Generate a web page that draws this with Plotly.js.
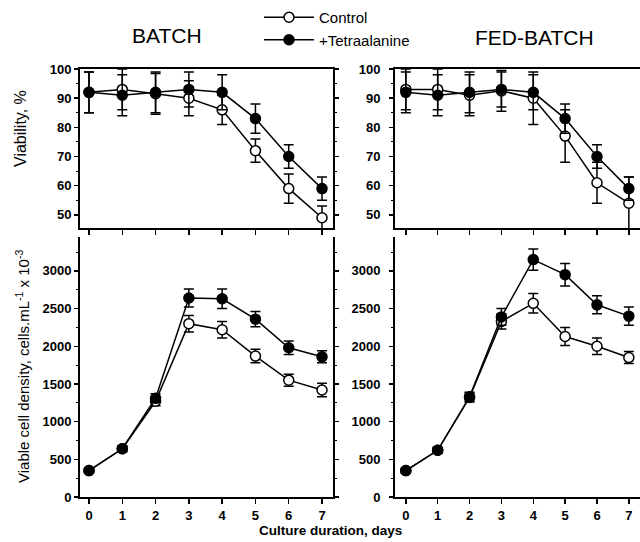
<!DOCTYPE html>
<html>
<head>
<meta charset="utf-8">
<script src="https://cdn.plot.ly/plotly-3.0.1.min.js"></script>
<style>html,body{margin:0;padding:0;background:#fff;}#chart{width:640px;height:542px;}</style>
</head>
<body>
<div id="chart"></div>
<script>
// ---- data ----
const days = [0, 1, 2, 3, 4, 5, 6, 7];
const dayTickLabels = ['0', '1', '2', '3', '4', '5', '6', '7'];

const batchViabControl    = [92, 93, 91.5, 90, 86, 72, 59, 49];
const batchViabControlErr = [7, 7, 7, 6, 5, 4, 5, 4];
const batchViabTetra      = [92, 91, 92, 93, 92, 83, 70, 59];
const batchViabTetraErr   = [7, 7, 7, 6, 6, 5, 4, 4];

const fedViabControl      = [93, 93, 91, 92.5, 90, 77, 61, 54];
const fedViabControlErr   = [7, 7, 7, 7, 9, 9, 7, 9];
const fedViabTetra        = [92, 91, 92, 93, 92, 83, 70, 59];
const fedViabTetraErr     = [7, 7, 7, 6, 6, 5, 4, 4];

const batchDensControl    = [350, 640, 1270, 2300, 2220, 1870, 1550, 1420];
const batchDensControlErr = [30, 40, 60, 110, 110, 90, 80, 90];
const batchDensTetra      = [350, 640, 1310, 2640, 2630, 2360, 1980, 1860];
const batchDensTetraErr   = [30, 40, 60, 120, 130, 100, 90, 80];

const fedDensControl      = [350, 620, 1320, 2330, 2570, 2130, 2000, 1850];
const fedDensControlErr   = [30, 40, 60, 100, 130, 120, 110, 80];
const fedDensTetra        = [350, 620, 1330, 2390, 3150, 2950, 2550, 2400];
const fedDensTetraErr     = [30, 40, 60, 110, 140, 150, 120, 120];

const seriesNames = ['Control', '+Tetraalanine'];
const panelTitles = ['BATCH', 'FED-BATCH'];

// ---- build ----
const FONT = 'Liberation Sans, Arial, sans-serif';
function mk(y, err, isControl, xa, ya, showLegend) {
  return {
    x: days, y: y, xaxis: xa, yaxis: ya,
    type: 'scatter', mode: 'lines+markers',
    name: isControl ? seriesNames[0] : seriesNames[1],
    showlegend: showLegend,
    line: {color: '#000', width: 1.5},
    marker: {size: 10, color: isControl ? '#fff' : '#000', line: {color: '#000', width: 1.5}},
    error_y: {type: 'data', array: err, visible: true, color: '#000', thickness: 1.5, width: 5}
  };
}
const traces = [
  mk(batchViabControl, batchViabControlErr, true, 'x', 'y', true),
  mk(batchViabTetra, batchViabTetraErr, false, 'x', 'y', true),
  mk(fedViabControl, fedViabControlErr, true, 'x2', 'y2', false),
  mk(fedViabTetra, fedViabTetraErr, false, 'x2', 'y2', false),
  mk(batchDensControl, batchDensControlErr, true, 'x3', 'y3', false),
  mk(batchDensTetra, batchDensTetraErr, false, 'x3', 'y3', false),
  mk(fedDensControl, fedDensControlErr, true, 'x4', 'y4', false),
  mk(fedDensTetra, fedDensTetraErr, false, 'x4', 'y4', false)
];

const tickFont = {family: FONT, size: 13, color: '#000', weight: 700};
function xax(domain, range, anchor, showLabels, mirror) {
  return {
    domain: domain, range: range, anchor: anchor,
    tickvals: days, ticktext: dayTickLabels, showticklabels: showLabels,
    ticks: 'outside', ticklen: 5, tickwidth: 1.5, tickcolor: '#000',
    showline: true, linewidth: 2, linecolor: '#000', mirror: mirror,
    showgrid: false, zeroline: false, tickfont: tickFont, fixedrange: true
  };
}
function yax(domain, range, anchor, dtick, minorDtick, standoff) {
  return {
    domain: domain, range: range, anchor: anchor, dtick: dtick, tick0: 0,
    ticks: 'outside', ticklen: 4, tickwidth: 1.5, tickcolor: '#000',
    minor: {dtick: minorDtick, ticks: 'outside', ticklen: 2, tickwidth: 1, tickcolor: '#000'},
    showline: true, linewidth: 2, linecolor: '#000', mirror: 'ticks',
    showgrid: false, zeroline: false, tickfont: tickFont, ticklabelstandoff: standoff, fixedrange: true
  };
}

const leftDom = [80/640, 333/640];
const rightDom = [395/640, 1];
const topDom = [1 - 228/542, 1 - 69/542];
const botDom = [1 - 497/542, 1 - 237/542];

const layout = {
  width: 640, height: 542,
  margin: {l: 0, r: 0, t: 0, b: 0},
  paper_bgcolor: '#fff', plot_bgcolor: 'rgba(0,0,0,0)',
  font: {family: FONT, color: '#000'},
  showlegend: true,
  legend: {x: 259/640, y: 1 - 1/542, xanchor: 'left', yanchor: 'top',
           font: {family: FONT, size: 15, color: '#000'}, bgcolor: 'rgba(0,0,0,0)',
           tracegroupgap: 0, itemwidth: 50},
  xaxis:  xax(leftDom, [-0.27, 7.33], 'y', false, true),
  yaxis:  yax(topDom, [45.5, 100], 'x', 10, 5, 0),
  xaxis2: xax(rightDom, [-0.34, 7.35], 'y2', false, true),
  yaxis2: yax(topDom, [45.5, 100], 'x2', 10, 5, 6),
  xaxis3: xax(leftDom, [-0.27, 7.33], 'y3', true, false),
  yaxis3: yax(botDom, [0, 3450], 'x3', 500, 250, 0),
  xaxis4: xax(rightDom, [-0.34, 7.35], 'y4', true, false),
  yaxis4: yax(botDom, [0, 3450], 'x4', 500, 250, 6),
  annotations: [
    {text: panelTitles[0], x: 167/640, y: 1 - 36/542, xref: 'paper', yref: 'paper', xanchor: 'center', yanchor: 'middle', showarrow: false, font: {family: FONT, size: 21, color: '#000'}},
    {text: panelTitles[1], x: 534/640, y: 1 - 38/542, xref: 'paper', yref: 'paper', xanchor: 'center', yanchor: 'middle', showarrow: false, font: {family: FONT, size: 21, color: '#000'}},
    {text: 'Viability, %', x: 20/640, y: 1 - 129/542, xref: 'paper', yref: 'paper', xanchor: 'center', yanchor: 'middle', textangle: -90, showarrow: false, font: {family: FONT, size: 16, color: '#000'}},
    {text: 'Viable cell density, cells.mL<sup>-1</sup> x 10<sup>-3</sup>', x: 22/640, y: 1 - 367/542, xref: 'paper', yref: 'paper', xanchor: 'center', yanchor: 'middle', textangle: -90, showarrow: false, font: {family: FONT, size: 15, color: '#000'}},
    {text: 'Culture duration, days', x: 330/640, y: 1 - 530/542, xref: 'paper', yref: 'paper', xanchor: 'center', yanchor: 'middle', showarrow: false, font: {family: FONT, size: 13.5, color: '#000', weight: 700}}
  ]
};

Plotly.newPlot('chart', traces, layout, {displayModeBar: false, staticPlot: true});
</script>
</body>
</html>
